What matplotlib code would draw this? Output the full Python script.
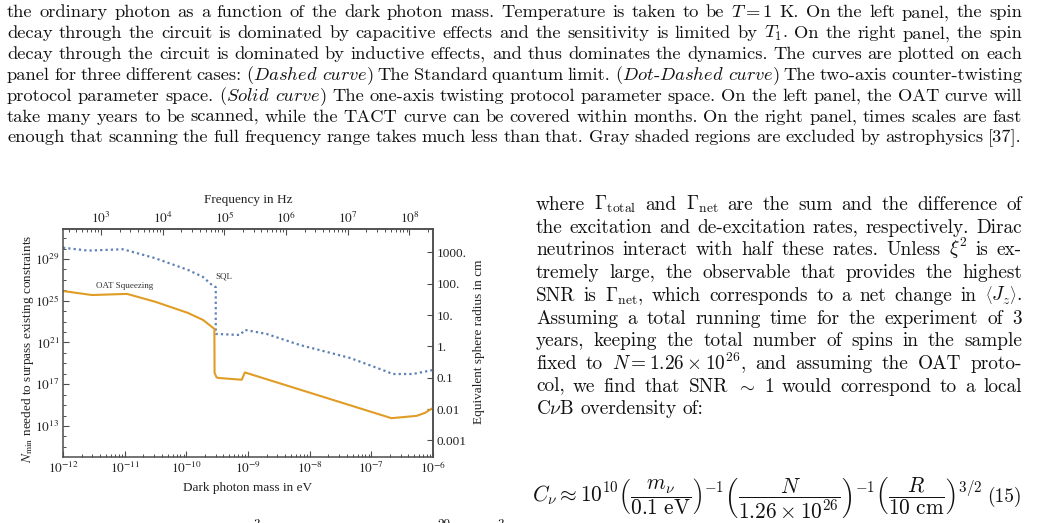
import numpy as np
import matplotlib
matplotlib.use("Agg")
import matplotlib.pyplot as plt
from matplotlib.ticker import FixedLocator, NullLocator, LogLocator, NullFormatter

plt.rcParams['font.family'] = 'Liberation Serif'
plt.rcParams['mathtext.fontset'] = 'stix'

W, H = 1037, 523
BLUE = "#5E81B5"
ORANGE = "#E09C24"
FRAME = "#4d4d4d"

# Standard quantum limit (dotted curve)
sql_mass = [1.0e-12, 2.54e-12, 9.4e-12, 3.1e-11, 1.06e-10, 1.86e-10, 2.6e-10, 3.0e-10,
            3.0e-10, 7.4e-10, 8.9e-10, 2.0e-9, 6.9e-9, 4.5e-8, 1.53e-7, 2.23e-7,
            4.7e-7, 1.0e-6]
sql_N = [1.2e30, 6.3e29, 8.5e29, 1.2e29, 9.0e27, 1.9e27, 3.2e26, 2.0e26,
         6.6e21, 5.2e21, 1.6e22, 6.6e21, 5.8e20, 3.3e19, 2.3e18, 9.5e17,
         9.5e17, 2.3e18]

# one-axis twisting (solid curve)
oat_mass = [1.0e-12, 2.95e-12, 1.09e-11, 3.1e-11, 1.06e-10, 1.86e-10, 2.85e-10,
            2.87e-10, 3.1e-10, 3.3e-10, 7.9e-10, 8.9e-10, 2.12e-7, 5.4e-7, 7.4e-7, 1.0e-6]
oat_N = [8.5e25, 3.5e25, 4.5e25, 8.1e24, 6.8e23, 1.45e23, 2.0e22,
         1.2e18, 4.5e17, 4.0e17, 2.7e17, 1.35e18, 5.6e13, 9.3e13, 1.8e14, 5.4e14]

left_major = [1e13, 1e17, 1e21, 1e25, 1e29]
left_labels = [r"$10^{13}$", r"$10^{17}$", r"$10^{21}$", r"$10^{25}$", r"$10^{29}$"]
bottom_major = [1e-12, 1e-11, 1e-10, 1e-9, 1e-8, 1e-7, 1e-6]
bottom_labels = [r"$10^{-12}$", r"$10^{-11}$", r"$10^{-10}$", r"$10^{-9}$",
                 r"$10^{-8}$", r"$10^{-7}$", r"$10^{-6}$"]
top_major = [1e3, 1e4, 1e5, 1e6, 1e7, 1e8]
top_labels = [r"$10^{3}$", r"$10^{4}$", r"$10^{5}$", r"$10^{6}$", r"$10^{7}$", r"$10^{8}$"]
right_major = [1000, 100, 10, 1, 0.1, 0.01, 0.001]
right_labels = ["1000.", "100.", "10.", "1.", "0.1", "0.01", "0.001"]

caption = [
    r"the ordinary photon as a function of the dark photon mass. Temperature is taken to be $T=1$ K. On the left panel, the spin",
    r"decay through the circuit is dominated by capacitive effects and the sensitivity is limited by $T_1$. On the right panel, the spin",
    r"decay through the circuit is dominated by inductive effects, and thus dominates the dynamics. The curves are plotted on each",
    r"panel for three different cases: $\mathit{(Dashed}$ $\mathit{curve)}$ The Standard quantum limit. $\mathit{(Dot}$-$\mathit{Dashed}$ $\mathit{curve)}$ The two-axis counter-twisting",
    r"protocol parameter space. $\mathit{(Solid}$ $\mathit{curve)}$ The one-axis twisting protocol parameter space. On the left panel, the OAT curve will",
    r"take many years to be scanned, while the TACT curve can be covered within months. On the right panel, times scales are fast",
    r"enough that scanning the full frequency range takes much less than that. Gray shaded regions are excluded by astrophysics [37].",
]

body = [
    r"where $\Gamma_{\mathrm{total}}$ and $\Gamma_{\mathrm{net}}$ are the sum and the difference of",
    r"the excitation and de-excitation rates, respectively. Dirac",
    r"neutrinos interact with half these rates. Unless $\xi^2$ is ex-",
    r"tremely large, the observable that provides the highest",
    r"SNR is $\Gamma_{\mathrm{net}}$, which corresponds to a net change in $\left\langle{J_z}\right\rangle$.",
    r"Assuming a total running time for the experiment of 3",
    r"years, keeping the total number of spins in the sample",
    r"fixed to $N=1.26\times10^{26}$, and assuming the OAT proto-",
    r"col, we find that SNR $\sim$ 1 would correspond to a local",
    r"C$\nu$B overdensity of:",
]

fig = plt.figure(figsize=(W / 100, H / 100), dpi=100)
renderer = fig.canvas.get_renderer()


def put_line(line, y_px, x0, x1, size, justify=True):
    words = line.split()
    texts = [fig.text(0, 1 - y_px / H, w, fontsize=size, family='cmr10',
                      math_fontfamily='cm', va='baseline', color='#111111')
             for w in words]
    widths = [t.get_window_extent(renderer).width for t in texts]
    if justify and len(words) > 1:
        gap = (x1 - x0 - sum(widths)) / (len(words) - 1)
    else:
        gap = size * 100 / 72 * 0.333
    x = x0
    for t, wd in zip(texts, widths):
        t.set_x(x / W)
        x += wd + gap


for i, line in enumerate(caption):
    put_line(line, 17.3 + 20.85 * i, 7, 1022, 13.3)

for i, line in enumerate(body):
    put_line(line, 210 + 22.7 * i, 536, 1022, 13.9, justify=(i < len(body) - 1))

fig.text(532 / W, 1 - 502 / H,
         r"$C_\nu \approx 10^{10}\left(\dfrac{m_\nu}{0.1\ \mathrm{eV}}\right)^{-1}"
         r"\left(\dfrac{N}{1.26\times10^{26}}\right)^{-1}"
         r"\left(\dfrac{R}{10\ \mathrm{cm}}\right)^{3/2}$",
         fontsize=15.4, math_fontfamily='cm', va='baseline', color='#111111')
fig.text(1022 / W, 1 - 502 / H, "(15)", fontsize=13.9, family='cmr10',
         ha='right', va='baseline', color='#111111')

# cut-off superscripts of the next line
for xp, s in [(253, "3"), (437, "20"), (497, "3")]:
    fig.text(xp / W, 1 - 519 / H, s, fontsize=9.5, family='cmr10', va='top', color='#111111')

# ---- chart ----
ax = fig.add_axes([63 / W, 66 / H, 370 / W, 228 / H])
ax.set_xscale('log')
ax.set_yscale('log')
ax.plot(sql_mass, sql_N, color=BLUE, lw=1.6, linestyle=(0, (1.0, 1.4)))
ax.plot(oat_mass, oat_N, color=ORANGE, lw=1.5)
ax.set_xlim(1e-12, 1e-6)
ax.set_ylim(1.07e10, 7.4e31)

ax.text(4.1e-10, 1.9e27, "SQL", fontsize=6.5, ha='center', va='center', color='#333333')
ax.text(1.0e-11, 2.6e26, "OAT Squeezing", fontsize=6.5, ha='center', va='center', color='#333333')

ax.set_yticks(left_major, labels=left_labels)
ax.yaxis.set_minor_locator(FixedLocator([10.0 ** k for k in range(10, 33) if 10.0 ** k not in left_major]))
ax.yaxis.set_minor_formatter(NullFormatter())
ax.set_xticks(bottom_major, labels=bottom_labels)
ax.xaxis.set_minor_locator(LogLocator(base=10, subs=np.arange(2, 10)))
ax.xaxis.set_minor_formatter(NullFormatter())

tick_kw = dict(direction='in', color=FRAME, labelsize=9.5, labelcolor='#222222')
ax.tick_params(which='major', length=4, width=0.8, pad=2.5, **tick_kw)
ax.tick_params(which='minor', length=2.2, width=0.7, **tick_kw)
for sp in ax.spines.values():
    sp.set_color(FRAME)
    sp.set_linewidth(1.1)

top = ax.secondary_xaxis('top', functions=(lambda m: m * 2.418e14, lambda f: f / 2.418e14))
top.set_xticks(top_major, labels=top_labels)
top.xaxis.set_minor_locator(LogLocator(base=10, subs=np.arange(2, 10)))
top.xaxis.set_minor_formatter(NullFormatter())
top.tick_params(which='major', length=4, width=0.8, pad=2, **tick_kw)
top.tick_params(which='minor', length=2.2, width=0.7, **tick_kw)

n_spin = 1e20
right = ax.secondary_yaxis('right', functions=(lambda n: np.cbrt(3 * n / (4 * np.pi * n_spin)),
                                               lambda r: 4 * np.pi * n_spin * r ** 3 / 3))
right.set_yticks(right_major, labels=right_labels)
right.yaxis.set_minor_locator(NullLocator())
right.tick_params(which='major', length=4, width=0.8, pad=2.5, **tick_kw)
for a in (top, right):
    for sp in a.spines.values():
        sp.set_color(FRAME)
        sp.set_linewidth(1.1)

fig.text(248 / W, 1 - 200 / H, "Frequency in Hz", fontsize=9.5, ha='center', va='center', color='#222222')
fig.text(248 / W, 1 - 488 / H, "Dark photon mass in eV", fontsize=9.5, ha='center', va='center', color='#222222')
fig.text(28 / W, 1 - 349 / H, r"$N_{\rm min}$ needed to surpass existing constraints", fontsize=9.5,
         rotation=90, ha='center', va='center', color='#222222')
fig.text(479 / W, 1 - 342 / H, "Equivalent sphere radius in cm", fontsize=9.5,
         rotation=90, ha='center', va='center', color='#222222')

fig.savefig("out.png", dpi=100)
